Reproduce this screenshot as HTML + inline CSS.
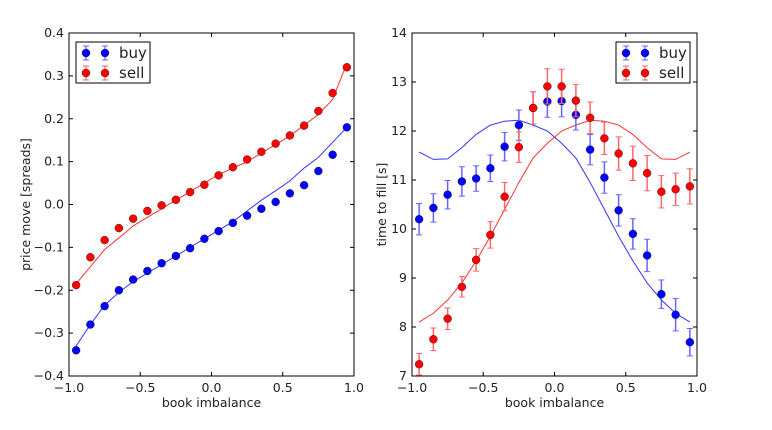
<!DOCTYPE html>
<html><head><meta charset="utf-8"><style>
body{margin:0;background:#fff;}
svg{display:block;font-family:"DejaVu Sans","Liberation Sans",sans-serif;}
</style></head><body>
<svg id="chart" width="772" height="430" viewBox="0 0 772 430"></svg>
<script>
const xs = [-0.95,-0.85,-0.75,-0.65,-0.55,-0.45,-0.35,-0.25,-0.15,-0.05,0.05,0.15,0.25,0.35,0.45,0.55,0.65,0.75,0.85,0.95];
const leftBuy = [-0.34,-0.28,-0.237,-0.2,-0.175,-0.155,-0.137,-0.12,-0.102,-0.08,-0.062,-0.043,-0.026,-0.01,0.006,0.026,0.045,0.078,0.116,0.18];
const leftSell = [-0.188,-0.123,-0.083,-0.055,-0.033,-0.015,-0.002,0.011,0.029,0.046,0.068,0.087,0.105,0.123,0.142,0.161,0.184,0.218,0.26,0.32];
const leftBuyLine = [-0.33,-0.28,-0.235,-0.205,-0.18,-0.16,-0.14,-0.12,-0.1,-0.08,-0.06,-0.04,-0.015,0.01,0.032,0.055,0.085,0.11,0.145,0.18];
const leftSellLine = [-0.185,-0.145,-0.105,-0.078,-0.05,-0.03,-0.01,0.01,0.03,0.05,0.07,0.085,0.1,0.12,0.14,0.16,0.185,0.21,0.245,0.33];
const rightBuy = [10.2,10.43,10.7,10.97,11.03,11.24,11.68,12.12,12.47,12.6,12.61,12.33,11.62,11.05,10.38,9.9,9.46,8.67,8.25,7.69];
const rightSell = [7.24,7.75,8.17,8.82,9.37,9.88,10.66,11.67,12.47,12.91,12.91,12.62,12.27,11.85,11.54,11.34,11.14,10.76,10.81,10.87];
const rightBuyErr = [0.32,0.29,0.29,0.3,0.26,0.27,0.29,0.31,0.33,0.32,0.32,0.31,0.31,0.32,0.32,0.31,0.33,0.29,0.33,0.28];
const rightSellErr = [0.22,0.23,0.22,0.21,0.23,0.27,0.29,0.31,0.33,0.36,0.35,0.33,0.32,0.33,0.34,0.35,0.36,0.33,0.33,0.36];
const rightSellLine = [8.1,8.28,8.55,8.9,9.35,9.85,10.4,10.95,11.45,11.75,12.0,12.12,12.22,12.2,12.12,11.93,11.66,11.43,11.42,11.57];
const rightBuyLine = rightSellLine.slice().reverse();
const xTicks = [-1.0,-0.5,0.0,0.5,1.0];
const xTickLabels = ["\u22121.0","\u22120.5","0.0","0.5","1.0"];
const leftYTicks = [-0.4,-0.3,-0.2,-0.1,0.0,0.1,0.2,0.3,0.4];
const leftYLabels = ["\u22120.4","\u22120.3","\u22120.2","\u22120.1","0.0","0.1","0.2","0.3","0.4"];
const rightYTicks = [7,8,9,10,11,12,13,14];
const rightYLabels = ["7","8","9","10","11","12","13","14"];

const svg = document.getElementById('chart');
const NS = 'http://www.w3.org/2000/svg';
function mk(tag, attrs, parent){const e=document.createElementNS(NS,tag);for(const k in attrs)e.setAttribute(k,attrs[k]);(parent||svg).appendChild(e);return e;}

function panel(cfg){
  const g = mk('g',{});
  
  
  const X0=cfg.x0,X1=cfg.x1,Y0=33,Y1=376;
  const sx=v=>X0+(v+1)/2*(X1-X0);
  const sy=v=>Y1-(v-cfg.ymin)/(cfg.ymax-cfg.ymin)*(Y1-Y0);
  xTicks.forEach((t,i)=>{
    const x=sx(t);
    mk('line',{x1:x,x2:x,y1:Y1,y2:Y1-4,stroke:'#000','stroke-width':1},g);
    mk('line',{x1:x,x2:x,y1:Y0,y2:Y0+4,stroke:'#000','stroke-width':1},g);
    const tx=mk('text',{x:x,y:Y1+16,'text-anchor':'middle','font-size':12.5,fill:'#222'},g);
    tx.textContent=xTickLabels[i];
    
    
  });
  cfg.yTicks.forEach((t,i)=>{
    const y=sy(t);
    mk('line',{x1:X0,x2:X0+4,y1:y,y2:y,stroke:'#000','stroke-width':1},g);
    mk('line',{x1:X1,x2:X1-4,y1:y,y2:y,stroke:'#000','stroke-width':1},g);
    const tx=mk('text',{x:X0-5,y:y+4,'text-anchor':'end','font-size':12.5,fill:'#222'},g);
    tx.textContent=cfg.yLabels[i];
    
    
  });
  const xl=mk('text',{x:(X0+X1)/2,y:Y1+31,'text-anchor':'middle','font-size':12.5,fill:'#222'},g);
  xl.textContent='book imbalance';
  
  
  const yl=mk('text',{x:0,y:0,'text-anchor':'middle','font-size':12.5,fill:'#222',transform:`translate(${cfg.ylx},${(Y0+Y1)/2}) rotate(-90)`},g);
  yl.textContent=cfg.ytitle;
  
  
  [[cfg.buyLine,'#3333ff','buy-model-line'],[cfg.sellLine,'#ff3333','sell-model-line']].forEach(([arr,c,n])=>{
    const p=mk('polyline',{points:arr.map((v,i)=>sx(xs[i])+','+sy(v)).join(' '),fill:'none',stroke:c,'stroke-width':1},g);
    
    
  });
  [[cfg.buy,cfg.buyErr,'#0000ff','#6666ff','buy-point'],[cfg.sell,cfg.sellErr,'#ff0000','#ff6666','sell-point']].forEach(([arr,err,c,ec,n])=>{
    arr.forEach((v,i)=>{
      const x=sx(xs[i]),y=sy(v);
      if(err){
        const e=err[i];
        mk('line',{x1:x,x2:x,y1:sy(v-e),y2:sy(v+e),stroke:ec,'stroke-width':1.5},g);
        mk('line',{x1:x-3,x2:x+3,y1:sy(v-e),y2:sy(v-e),stroke:ec,'stroke-width':1},g);
        mk('line',{x1:x-3,x2:x+3,y1:sy(v+e),y2:sy(v+e),stroke:ec,'stroke-width':1},g);
      }
      const cc=mk('circle',{cx:x,cy:y,r:4,fill:c,stroke:'#222','stroke-width':0.4},g);
      
      
    });
  });
  mk('rect',{x:X0,y:Y0,width:X1-X0,height:Y1-Y0,fill:'none',stroke:'#000','stroke-width':1},g);
  const L=mk('g',{},g);
  
  
  const lx=cfg.legX, ly=42;
  mk('rect',{x:lx,y:ly,width:74,height:41,fill:'#fff',stroke:'#000','stroke-width':1},L);
  [['buy','#0000ff','#6666ff',ly+11],['sell','#ff0000','#ff6666',ly+31]].forEach(([t,c,ec,y])=>{
    [lx+10,lx+29].forEach(x=>{
      mk('line',{x1:x,x2:x,y1:y-7,y2:y+7,stroke:ec,'stroke-width':1.2},L);
      mk('line',{x1:x-3,x2:x+3,y1:y-7,y2:y-7,stroke:ec,'stroke-width':1},L);
      mk('line',{x1:x-3,x2:x+3,y1:y+7,y2:y+7,stroke:ec,'stroke-width':1},L);
      mk('circle',{cx:x,cy:y,r:4,fill:c,stroke:'#222','stroke-width':0.4},L);
    });
    const tt=mk('text',{x:lx+43,y:y+5,'font-size':15,fill:'#222'},L);
    tt.textContent=t;
    
    
  });
}
panel({name:'price-move-panel',x0:69,x1:354,ymin:-0.4,ymax:0.4,yTicks:leftYTicks,yLabels:leftYLabels,ytitle:'price move [spreads]',ylx:30,
  buy:leftBuy,sell:leftSell,buyErr:null,sellErr:null,buyLine:leftBuyLine,sellLine:leftSellLine,legX:76});
panel({name:'time-to-fill-panel',x0:412,x1:697,ymin:7,ymax:14,yTicks:rightYTicks,yLabels:rightYLabels,ytitle:'time to fill [s]',ylx:386,
  buy:rightBuy,sell:rightSell,buyErr:rightBuyErr,sellErr:rightSellErr,buyLine:rightBuyLine,sellLine:rightSellLine,legX:616});
</script>
</body></html>
